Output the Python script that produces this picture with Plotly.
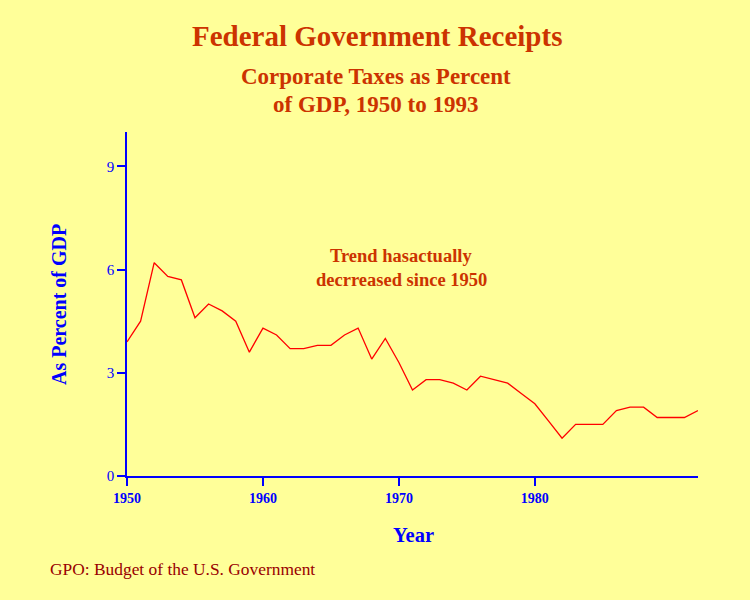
import plotly.graph_objects as go

years = list(range(1950, 1993))
corp_tax_pct_gdp = [3.9, 4.5, 6.2, 5.8, 5.7, 4.6, 5.0, 4.8, 4.5, 3.6,
                    4.3, 4.1, 3.7, 3.7, 3.8, 3.8, 4.1, 4.3, 3.4, 4.0,
                    3.3, 2.5, 2.8, 2.8, 2.7, 2.5, 2.9, 2.8, 2.7, 2.4,
                    2.1, 1.6, 1.1, 1.5, 1.5, 1.5, 1.9, 2.0, 2.0, 1.7,
                    1.7, 1.7, 1.9]
x_ticks = [1950, 1960, 1970, 1980]
y_ticks = [0, 3, 6, 9]

BG = "#FFFF99"
TITLE_C = "#CC3300"
BLUE = "#0000FF"
SERIF = "Liberation Serif, Times New Roman, serif"

fig = go.Figure()
fig.add_trace(go.Scatter(x=years, y=corp_tax_pct_gdp, mode="lines",
                         line=dict(color="#FF0000", width=1.3),
                         hoverinfo="skip", showlegend=False))

W, H = 750, 600
L, R, T, B = 127, 52, 132, 124

fig.update_layout(
    width=W, height=H,
    paper_bgcolor=BG, plot_bgcolor=BG,
    margin=dict(l=L, r=R, t=T, b=B, autoexpand=False),
    font=dict(family=SERIF, color=BLUE),
    xaxis=dict(range=[1950, 1992], tickvals=x_ticks, ticktext=[str(v) for v in x_ticks],
               showgrid=False, zeroline=False, showline=True, linecolor=BLUE, linewidth=1.5,
               ticks="outside", ticklen=8, tickcolor=BLUE, tickwidth=1.5,
               tickfont=dict(family=SERIF, size=14, color=BLUE, weight="bold")),
    yaxis=dict(range=[0, 10], tickvals=y_ticks, ticktext=[str(v) for v in y_ticks],
               showgrid=False, zeroline=False, showline=True, linecolor=BLUE, linewidth=1.5,
               ticks="outside", ticklen=8, tickcolor=BLUE, tickwidth=1.5,
               tickfont=dict(family=SERIF, size=15, color=BLUE)),
)

def ann(text, xpix, ypix, size, color, bold=False, xanchor="center", textangle=0):
    xp = (xpix - L) / (W - L - R)
    yp = (H - B - ypix) / (H - T - B)
    t = f"<b>{text}</b>" if bold else text
    fig.add_annotation(x=xp, y=yp, xref="paper", yref="paper", text=t, showarrow=False,
                       xanchor=xanchor, yanchor="middle", textangle=textangle,
                       font=dict(family=SERIF, size=size, color=color))

ann("Federal Government Receipts", 377, 36, 29, TITLE_C, bold=True)
ann("Corporate Taxes as Percent", 376, 77, 23, TITLE_C, bold=True)
ann("of GDP, 1950 to 1993", 376, 104, 23, TITLE_C, bold=True)
ann("Trend hasactually", 401, 256, 18.5, TITLE_C, bold=True)
ann("decrreased since 1950", 401, 280, 18.5, TITLE_C, bold=True)
ann("Year", 413, 535, 20.5, BLUE, bold=True)
ann("As Percent of GDP", 59, 305, 20, BLUE, bold=True, textangle=-90)
ann("GPO: Budget of the U.S. Government", 48, 569, 17.4, "#990000", xanchor="left")

fig.write_html("out.html", config={"displayModeBar": False},
               post_script="document.body.style.margin='0';document.body.style.background='#FFFF99';")
